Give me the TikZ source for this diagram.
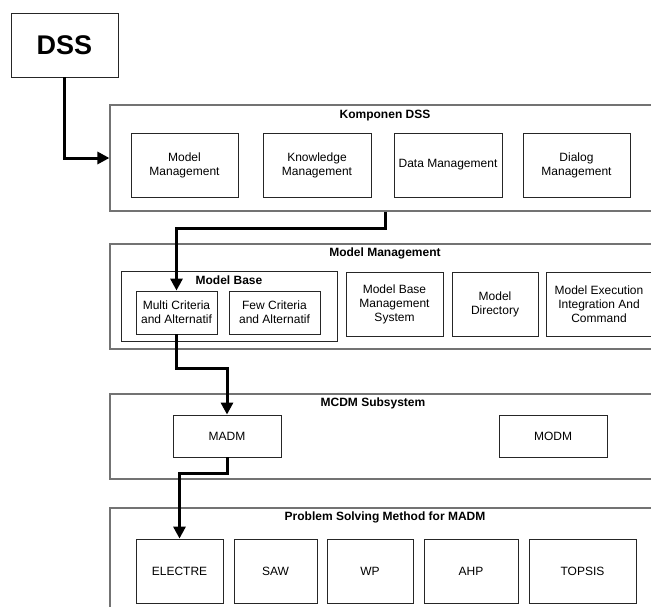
\documentclass[tikz,border=0pt]{standalone}
\usepackage{fontspec}
\setmainfont{Liberation Sans}
\usetikzlibrary{arrows.meta}

\begin{document}
\begin{tikzpicture}[x=1pt,y=-1pt,
  box/.style={draw=black!85, line width=0.9pt, inner sep=0pt, align=center,
    font=\fontsize{12}{14}\selectfont},
  frame/.style={draw=black!55, line width=1.2pt, inner sep=0pt},
  title/.style={font=\fontsize{12}{14}\selectfont\bfseries},
  flow/.style={line width=3pt, -{Triangle[length=12pt,width=12pt]}}]
  \clip (0,0) rectangle (651,606);
  \fill[white] (0,0) rectangle (651,606);
  % containers
  \node[frame, minimum width=550pt, minimum height=106pt] (komp) at (385,158) {};
  \node[frame, minimum width=550pt, minimum height=105pt] (mmf) at (385,296.5) {};
  \node[frame, minimum width=550pt, minimum height=85pt] (mcdm) at (385,436.5) {};
  \node[frame, minimum width=550pt, minimum height=108pt] (psm) at (385,562) {};
  \node[title] (komptitle) at (385,116) {Komponen DSS};
  \node[title] (mmtitle) at (385,253) {Model Management};
  \node[title] (mcdmtitle) at (373,403) {MCDM Subsystem};
  \node[title] (psmtitle) at (385,517) {Problem Solving Method for MADM};
  \node[box, minimum width=107pt, minimum height=64pt,
    font=\fontsize{27}{30}\selectfont\bfseries] (dss) at (64.5,45) {DSS};
  % Komponen DSS
  \node[box, minimum width=107pt, minimum height=64pt] (mm) at (184.5,165) {Model\\Management};
  \node[box, minimum width=108pt, minimum height=64pt] (km) at (317,165) {Knowledge\\Management};
  \node[box, minimum width=108pt, minimum height=64pt] (dm) at (448,165) {Data Management};
  \node[box, minimum width=107pt, minimum height=64pt] (dlm) at (576.5,165) {Dialog\\Management};
  % Model Management
  \node[box, minimum width=216pt, minimum height=70pt] (mb) at (229,306) {};
  \node[title] (mbtitle) at (229,280) {Model Base};
  \node[box, minimum width=81pt, minimum height=43pt] (multi) at (176.5,312.5) {Multi Criteria\\and Alternatif};
  \node[box, minimum width=91pt, minimum height=43pt] (few) at (274.5,312.5) {Few Criteria\\and Alternatif};
  \node[box, minimum width=97pt, minimum height=64pt] (mbms) at (394.5,304) {Model Base\\Management\\System};
  \node[box, minimum width=86pt, minimum height=64pt] (mdir) at (495,304) {Model\\Directory};
  \node[box, minimum width=106pt, minimum height=64pt] (mexec) at (599,304) {Model Execution\\Integration And\\Command};
  % MCDM Subsystem
  \node[box, minimum width=108pt, minimum height=42pt] (madm) at (227,436) {MADM};
  \node[box, minimum width=108pt, minimum height=42pt] (modm) at (553,436) {MODM};
  % Problem Solving Method for MADM
  \node[box, minimum width=87pt, minimum height=64pt] (electre) at (179.5,571) {ELECTRE};
  \node[box, minimum width=83pt, minimum height=64pt] (saw) at (275.5,571) {SAW};
  \node[box, minimum width=86pt, minimum height=64pt] (wp) at (370,571) {WP};
  \node[box, minimum width=94pt, minimum height=64pt] (ahp) at (471,571) {AHP};
  \node[box, minimum width=107pt, minimum height=64pt] (topsis) at (582.5,571) {TOPSIS};
  % flow
  \draw[flow] (dss.south) |- (komp.west);
  \draw[flow] (komp.south) -- ++(0,17) -| (multi.north);
  \draw[flow] (multi.south) -- ++(0,34) -| (madm.north);
  \draw[flow] (madm.south) -- ++(0,16) -| (electre.north);
\end{tikzpicture}
\end{document}
